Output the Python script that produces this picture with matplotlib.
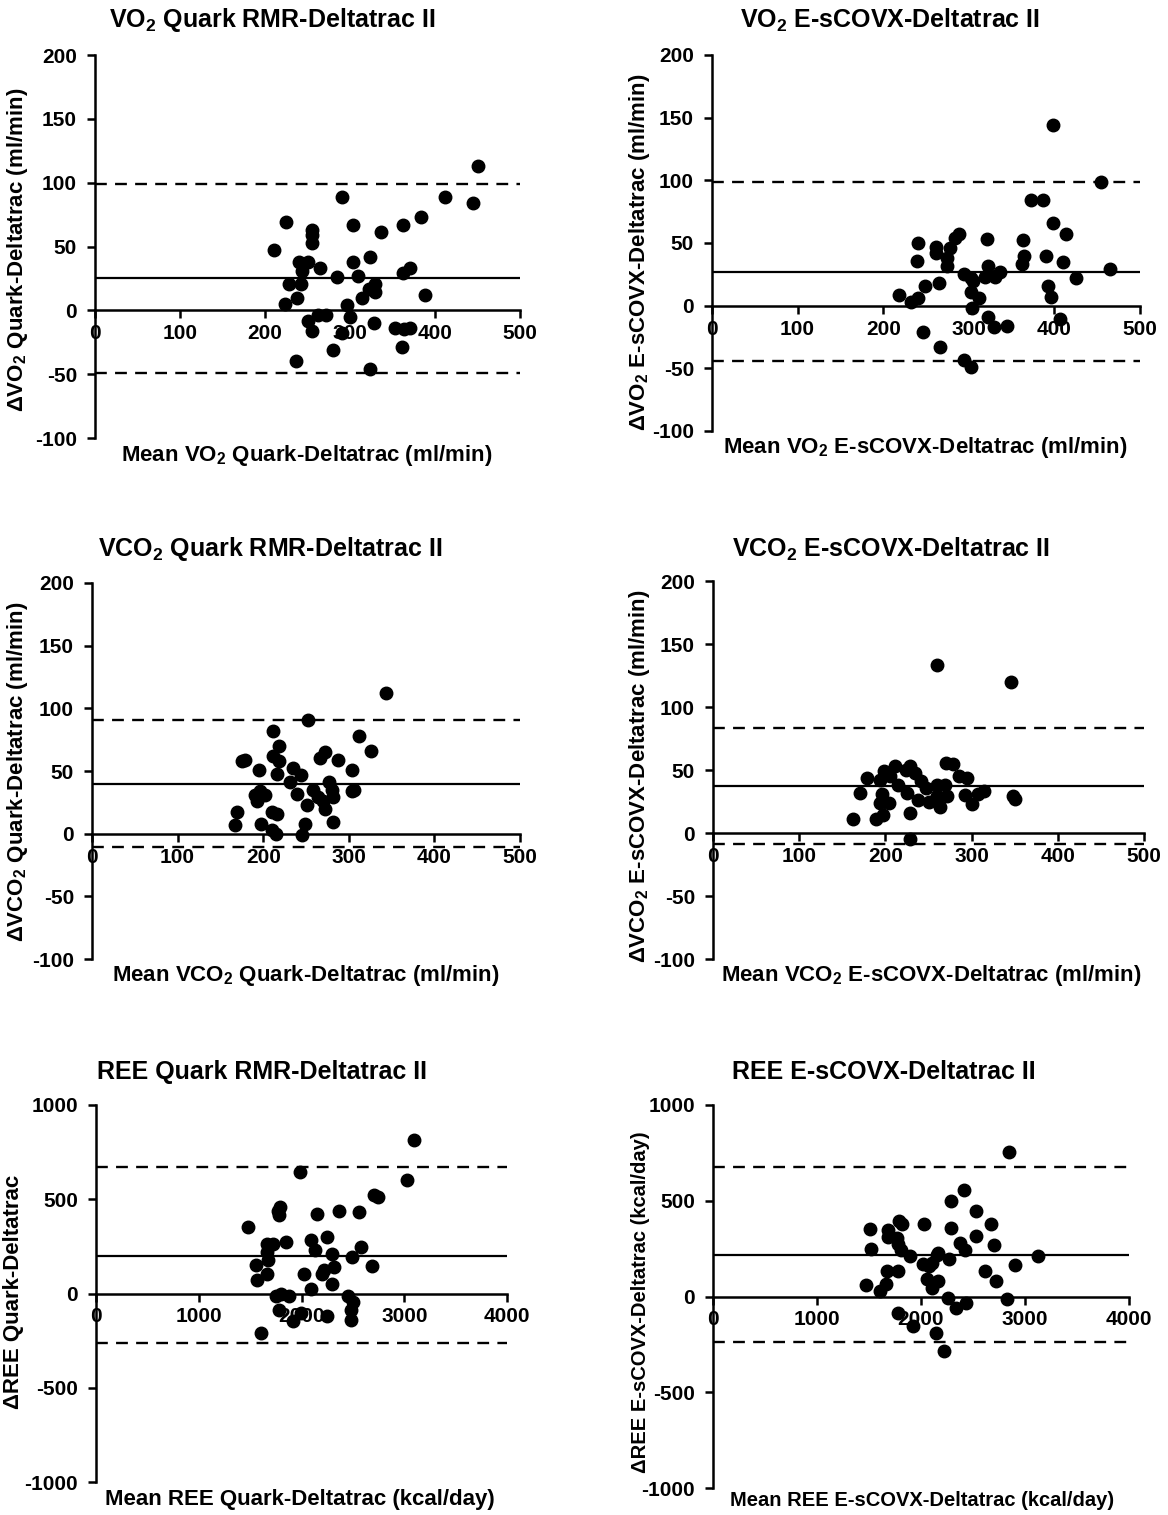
import matplotlib
matplotlib.use('Agg')
import matplotlib.pyplot as plt

plt.rcParams['font.family'] = ['Liberation Sans', 'DejaVu Sans']
plt.rcParams['font.weight'] = 'bold'
plt.rcParams['axes.unicode_minus'] = False
plt.rcParams['mathtext.fontset'] = 'custom'
plt.rcParams['mathtext.rm'] = 'Liberation Sans:bold'
plt.rcParams['mathtext.it'] = 'Liberation Sans:bold'
plt.rcParams['mathtext.bf'] = 'Liberation Sans:bold'

# ---- data ----
vo2_q_x = [450, 412, 445, 291, 225, 303, 362, 384, 337, 255, 255, 255, 211, 240, 251, 304, 323, 265, 244, 285,
           309, 371, 362, 228, 242, 329, 322, 329, 314, 224, 238, 388, 296, 300, 250, 262, 272, 255, 328, 353,
           363, 371, 290, 280, 361, 237, 324]
vo2_q_y = [113, 89, 84, 89, 69, 67, 67, 73, 61, 63, 59, 53, 47, 38, 38, 38, 42, 33, 31, 26,
           27, 33, 29, 21, 21, 21, 17, 14, 10, 5, 10, 12, 4, -5, -8, -4, -4, -16, -10, -14,
           -15, -14, -18, -31, -29, -40, -46]
vo2_q_lines = [25, 99, -49]

vo2_e_x = [241, 239, 262, 262, 278, 275, 275, 284, 288, 321, 323, 319, 294, 302, 305, 303, 312, 304, 265, 249,
           219, 232, 241, 246, 266, 294, 302, 322, 330,
           398, 454, 373, 387, 398, 413, 363, 365, 362, 390, 410, 331, 337, 465, 425, 393, 396, 407, 345]
vo2_e_y = [50, 36, 47, 42, 46, 38, 32, 54, 57, 53, 32, 23, 25, 22, 20, 11, 6, -2, 18, 16,
           8.5, 3, 6, -21, -33, -43, -49, -9, -17,
           144, 99, 84, 84, 66, 57, 52, 40, 33, 40, 35, 23, 27, 29, 22, 16, 7, -11, -16]
vo2_e_lines = [27, 99, -44]

vco2_q_x = [343, 252, 211, 312, 326, 219, 211, 219, 175, 179, 272, 266, 287, 195, 235, 244, 216, 304, 231, 277,
            258, 280, 306, 304, 191, 202, 196, 240, 264, 281, 193, 270, 251, 272, 169, 210, 216, 167, 198, 249,
            281, 210, 215, 245]
vco2_q_y = [112, 90.5, 82, 78, 66, 70, 62, 58, 58, 59, 65, 60, 59, 51, 52, 47, 48, 51, 41, 41,
            35, 35, 35, 34, 31, 31, 34, 32, 29, 29, 26, 26, 22.5, 20, 17, 17, 15.5, 7, 8, 8,
            9, 3, 0, -1]
vco2_q_lines = [40, 90.5, -11]

vco2_e_x = [260, 346, 162, 171, 179, 189, 197, 194, 204, 196, 194, 198, 205, 211, 215, 225, 224, 229, 234, 229,
            229, 238, 241, 247, 251, 260, 260, 263, 269, 271, 270, 279, 285, 295, 292, 301, 307, 314, 348, 350]
vco2_e_y = [133, 120, 11, 32, 44, 11, 14.5, 24, 24, 31, 42, 49, 45, 53, 38, 32, 50, 53, 48, 16,
            -4.5, 26, 41, 36, 25, 38, 29, 21, 38, 29, 55.5, 55, 45.5, 44, 30, 23, 31, 33, 29, 27]
vco2_e_lines = [37, 83, -8.5]

ree_q_x = [3098, 3026, 1985, 2707, 2740, 1790, 1775, 1781, 2148, 2366, 2555, 1478, 1846, 1667, 1725, 2097, 2246,
           2130, 2578, 2295, 1667, 1673, 2490, 1553, 2317, 2682, 2220, 2203, 1667, 2024, 1570, 2295, 2090,
           1748, 1803, 1878, 2454, 2497, 2480, 1781, 1992, 1921, 2246, 2483, 1609]
ree_q_y = [816, 601, 643, 520, 512, 460, 440, 419, 422, 440, 433, 353, 272, 260, 265, 283, 300,
           233, 248, 212, 219, 177, 194, 150, 141, 145, 124, 101, 106, 101, 74, 48, 25,
           -14, -5, -14, -11, -46, -85, -88, -102, -147, -120, -143, -212]
ree_q_lines = [201, 672, -262]

ree_e_x = [3124, 2907, 2844, 2827, 2704, 2676, 2722, 2617, 2529, 2529, 2413, 2378, 2424, 2431, 2337, 2291, 2291,
           2266, 2256, 2168, 2150, 2109, 2081, 2032, 2021, 2056, 2109, 2168, 2144, 2221, 1926, 1898, 1821,
           1786, 1811, 1776, 1765, 1681, 1678, 1671, 1776, 1660, 1601, 1513, 1520, 1471, 1776]
ree_e_y = [210, 163, 757, -12, 271, 378, 80, 131, 316, 446, 556, 280, 241, -33, -61, 500, 360,
           198, -7, 227, 215, 175, 157, 378, 171, 93, 45, 80, -191, -287, -152, 210, 381,
           395, 245, 276, 308, 346, 311, 131, 131, 63, 31, 353, 250, 58, -86]
ree_e_lines = [215, 675, -240]

W, H = 1168, 1515
fig = plt.figure(figsize=(W / 100, H / 100), dpi=100)


def panel(box, x, y, lines, xmax, xstep, ylim, ystep, title, title_xy, xlabel, xlabel_xy, ylabel, ylabel_xy,
          xl_size=16, yl_size=16):
    left, right, top, bottom = box
    ax = fig.add_axes([left / W, 1 - bottom / H, (right - left) / W, (bottom - top) / H])
    ax.plot(x, y, 'o', color='black', ms=9, clip_on=False, zorder=3)
    ax.axhline(lines[0], color='black', lw=1.6)
    ax.axhline(lines[1], color='black', lw=1.7, ls=(0, (5, 3.5)))
    ax.axhline(lines[2], color='black', lw=1.7, ls=(0, (5, 3.5)))
    ax.set_xlim(0, xmax)
    ax.set_ylim(*ylim)
    ax.set_xticks(range(0, xmax + 1, xstep))
    ax.set_yticks(range(ylim[0], ylim[1] + 1, ystep))
    ax.spines['top'].set_visible(False)
    ax.spines['right'].set_visible(False)
    ax.spines['bottom'].set_position(('data', 0))
    ax.spines['left'].set_linewidth(1.8)
    ax.spines['bottom'].set_linewidth(1.8)
    ax.tick_params(axis='both', direction='out', length=6, width=1.8)
    ax.tick_params(axis='y', pad=7)
    ax.tick_params(axis='x', pad=4)
    for lab in ax.get_xticklabels() + ax.get_yticklabels():
        lab.set_fontweight('bold')
        lab.set_fontsize(15)
    fig.text(title_xy[0] / W, 1 - title_xy[1] / H, title, ha='center', va='center', fontsize=18, fontweight='bold')
    fig.text(xlabel_xy[0] / W, 1 - xlabel_xy[1] / H, xlabel, ha='center', va='center',
             fontsize=xl_size, fontweight='bold')
    fig.text(ylabel_xy[0] / W, 1 - ylabel_xy[1] / H, ylabel, ha='center', va='center', rotation=90,
             fontsize=yl_size, fontweight='bold')
    return ax


panel((95, 520, 55, 438), vo2_q_x, vo2_q_y, vo2_q_lines, 500, 100, (-100, 200), 50,
      'VO$_2$ Quark RMR-Deltatrac II', (272, 20),
      'Mean VO$_2$ Quark-Deltatrac (ml/min)', (307, 455),
      '\u0394VO$_2$ Quark-Deltatrac (ml/min)', (18, 250))

panel((712, 1140, 55, 431), vo2_e_x, vo2_e_y, vo2_e_lines, 500, 100, (-100, 200), 50,
      'VO$_2$ E-sCOVX-Deltatrac II', (890, 20),
      'Mean VO$_2$ E-sCOVX-Deltatrac (ml/min)', (925, 448),
      '\u0394VO$_2$ E-sCOVX-Deltatrac (ml/min)', (640, 252))

panel((92, 520, 583, 959), vco2_q_x, vco2_q_y, vco2_q_lines, 500, 100, (-100, 200), 50,
      'VCO$_2$ Quark RMR-Deltatrac II', (270, 549),
      'Mean VCO$_2$ Quark-Deltatrac (ml/min)', (306, 976),
      '\u0394VCO$_2$ Quark-Deltatrac (ml/min)', (18, 772))

panel((713, 1144, 581, 959), vco2_e_x, vco2_e_y, vco2_e_lines, 500, 100, (-100, 200), 50,
      'VCO$_2$ E-sCOVX-Deltatrac II', (891, 549),
      'Mean VCO$_2$ E-sCOVX-Deltatrac (ml/min)', (931, 976),
      '\u0394VCO$_2$ E-sCOVX-Deltatrac (ml/min)', (640, 776))

panel((96, 507, 1105, 1482), ree_q_x, ree_q_y, ree_q_lines, 4000, 1000, (-1000, 1000), 500,
      'REE Quark RMR-Deltatrac II', (262, 1072),
      'Mean REE Quark-Deltatrac (kcal/day)', (300, 1500),
      '\u0394REE Quark-Deltatrac', (14, 1292))

panel((713, 1129, 1105, 1488), ree_e_x, ree_e_y, ree_e_lines, 4000, 1000, (-1000, 1000), 500,
      'REE E-sCOVX-Deltatrac II', (884, 1072),
      'Mean REE E-sCOVX-Deltatrac (kcal/day)', (922, 1500),
      '\u0394REE E-sCOVX-Deltatrac (kcal/day)', (640, 1302), xl_size=14.5, yl_size=14.5)

fig.savefig('out.png', dpi=100, facecolor='white')
